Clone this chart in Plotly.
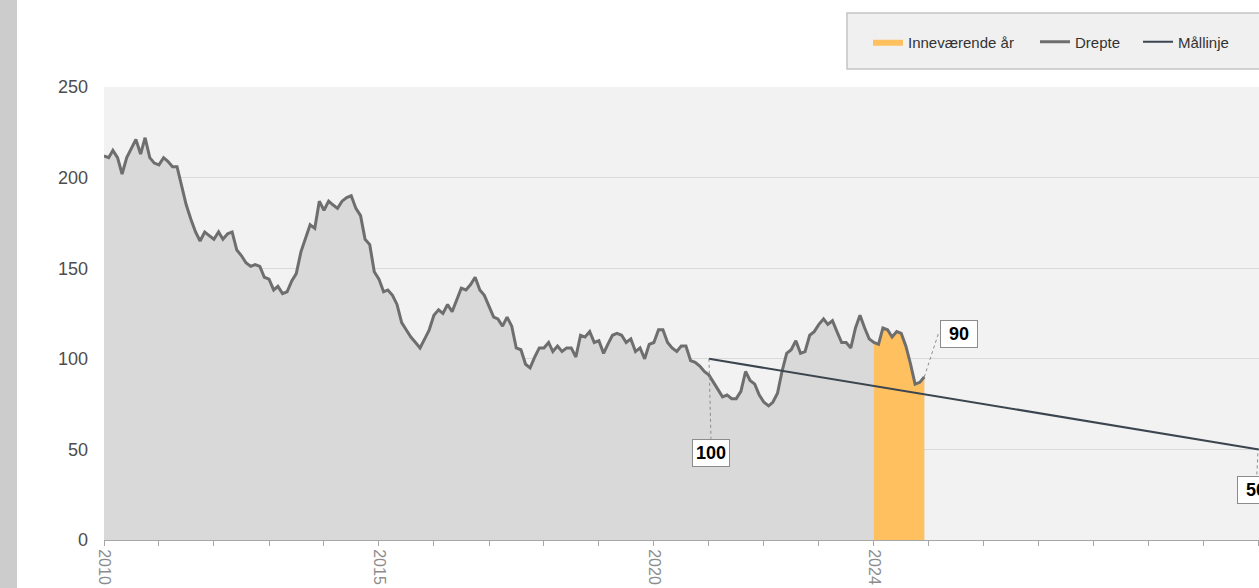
import pandas as pd
import plotly.graph_objects as go

# Drepte i trafikken, rullerende 12 mnd, én verdi per måned fra jan 2010
drepte_2010_2023 = [
    212, 211, 215, 211, 202, 211, 216, 221, 213, 222, 211, 208,  # 2010
    207, 211, 209, 206, 206, 196, 185, 177, 170, 165, 170, 168,  # 2011
    166, 170, 166, 169, 170, 160, 157, 153, 151, 152, 151, 145,  # 2012
    144, 138, 140, 136, 137, 143, 147, 159, 167, 174, 172, 187,  # 2013
    182, 187, 185, 183, 187, 189, 190, 183, 179, 166, 163, 148,  # 2014
    144, 137, 138, 135, 130, 120, 116, 112, 109, 106, 111, 116,  # 2015
    124, 127, 125, 130, 126, 133, 139, 138, 141, 145, 138, 135,  # 2016
    129, 123, 122, 118, 123, 118, 106, 105, 97, 95, 101, 106,    # 2017
    106, 109, 104, 107, 104, 106, 106, 101, 113, 112, 115, 109,  # 2018
    110, 103, 108, 113, 114, 113, 109, 111, 104, 106, 100, 108,  # 2019
    109, 116, 116, 109, 106, 104, 107, 107, 99, 98, 96, 93,      # 2020
    91, 87, 83, 79, 80, 78, 78, 82, 93, 88, 86, 80,              # 2021
    76, 74, 76, 81, 93, 103, 105, 110, 103, 104, 113, 115,       # 2022
    119, 122, 119, 121, 115, 109, 109, 106, 117, 124, 117, 111,  # 2023
]
drepte_2024 = [109, 108, 117, 116, 112, 115, 114, 107, 97, 86, 87, 90]

# Mållinje
maal_dato = ["2021-01-01", "2031-01-01"]
maal_verdi = [100, 50]

tick_aar = ["2010", "2015", "2020", "2024"]

drepte = drepte_2010_2023 + drepte_2024
maaneder = pd.date_range("2010-01-01", periods=len(drepte), freq="MS")
maaneder_2024 = maaneder[-len(drepte_2024):]

# Figurstørrelse og marger (piksler)
W, H = 1259, 588
L, R, T, B = 104, 0, 87, 48
pw, ph = W - L - R, H - T - B


def px_x(p):
    return (p - L) / pw


def px_y(p):
    return (H - B - p) / ph


fig = go.Figure()

# Grått areal under linja
fig.add_trace(go.Scatter(
    x=maaneder, y=drepte,
    mode="lines", fill="tozeroy",
    fillcolor="#d9d9d9", line=dict(width=0),
    showlegend=False, hoverinfo="skip"
))

# Inneværende år
fig.add_trace(go.Scatter(
    x=maaneder_2024, y=drepte_2024,
    mode="lines", fill="tozeroy",
    fillcolor="#ffc060", line=dict(width=0, color="#ffc060"),
    name="Inneværende år", legend="legend"
))

fig.add_trace(go.Scatter(
    x=maaneder, y=drepte,
    mode="lines",
    line=dict(color="#6e6e6e", width=3),
    name="Drepte", legend="legend2"
))

fig.add_trace(go.Scatter(
    x=maal_dato, y=maal_verdi,
    mode="lines",
    line=dict(color="#3b4550", width=2),
    name="Mållinje", legend="legend3"
))

label_font = dict(family="Liberation Sans, Arial, sans-serif", size=18, color="#000000")
box = dict(showarrow=False, bgcolor="#ffffff", bordercolor="#8c8c8c", width=30,
           borderwidth=1, borderpad=3, font=label_font, xref="x", yref="y")

siste = drepte[-1]
fig.add_annotation(x=maal_dato[0], y=maal_verdi[0], text=f"<b>{maal_verdi[0]}</b>",
                   xshift=2, yshift=-94, **box)
fig.add_annotation(x=maaneder[-1], y=siste, text=f"<b>{siste}</b>",
                   xshift=35, yshift=43, **box)
fig.add_annotation(x=maal_dato[-1], y=maal_verdi[-1], text=f"<b>{maal_verdi[-1]}</b>",
                   xshift=-3, yshift=-41, **box)

leader = dict(type="line", xref="x", yref="y", xsizemode="pixel", ysizemode="pixel",
              line=dict(color="#8c8c8c", width=1, dash="dot"), layer="above")
fig.add_shape(xanchor=maal_dato[0], yanchor=maal_verdi[0], x0=0, y0=0, x1=2, y1=-80, **leader)
fig.add_shape(xanchor=maaneder[-1], yanchor=siste, x0=0, y0=0, x1=14, y1=43, **leader)
fig.add_shape(xanchor=maal_dato[-1], yanchor=maal_verdi[-1], x0=-1, y0=-4, x1=-2, y1=-25, **leader)

# Grå stripe til venstre
fig.add_shape(type="rect", xref="paper", yref="paper",
              x0=px_x(0), x1=px_x(17), y0=px_y(H), y1=px_y(0),
              fillcolor="#cccccc", line=dict(width=0), layer="below")
# Bakgrunn for tegnforklaring
fig.add_shape(type="rect", xref="paper", yref="paper",
              x0=px_x(847), x1=px_x(W + 20), y0=px_y(69), y1=px_y(13),
              fillcolor="#f0f0f0", line=dict(color="#c4c4c4", width=1.5), layer="below")

legend_stil = dict(
    orientation="h", xanchor="left",
    y=px_y(42), yanchor="middle",
    bgcolor="rgba(0,0,0,0)",
    font=dict(size=15, color="#333333"),
)

fig.update_layout(
    width=W, height=H,
    margin=dict(l=L, r=R, t=T, b=B),
    paper_bgcolor="#ffffff",
    plot_bgcolor="#f2f2f2",
    font=dict(family="Liberation Sans, Arial, sans-serif", color="#595959"),
    legend=dict(x=px_x(868), **legend_stil),
    legend2=dict(x=px_x(1035), **legend_stil),
    legend3=dict(x=px_x(1138), **legend_stil),
    showlegend=True,
)

fig.update_xaxes(
    type="date",
    range=["2010-01-01", "2031-01-02"],
    tickmode="array",
    tickvals=[f"{a}-01-01" for a in tick_aar],
    ticktext=tick_aar,
    tickangle=90,
    tickfont=dict(size=16, color="#8c8c8c"),
    ticks="outside", ticklen=5, tickcolor="#a6a6a6",
    minor=dict(dtick="M12", tick0="2010-01-01", ticks="outside", ticklen=5,
               tickcolor="#a6a6a6", showgrid=False),
    showline=True, linecolor="#a6a6a6", linewidth=1,
    showgrid=False, zeroline=False,
    automargin=False,
)

fig.update_yaxes(
    range=[0, 250],
    dtick=50,
    tickfont=dict(size=18, color="#4d4d4d"),
    gridcolor="#dadada", gridwidth=1,
    showline=False, zeroline=False,
    ticklabelstandoff=15,
    automargin=False,
)

# Siden skal begynne helt i hjørnet, uten standardmarg rundt body
fig.write_html("out.html", config={"displayModeBar": False},
               post_script="document.body.style.margin='0';")
